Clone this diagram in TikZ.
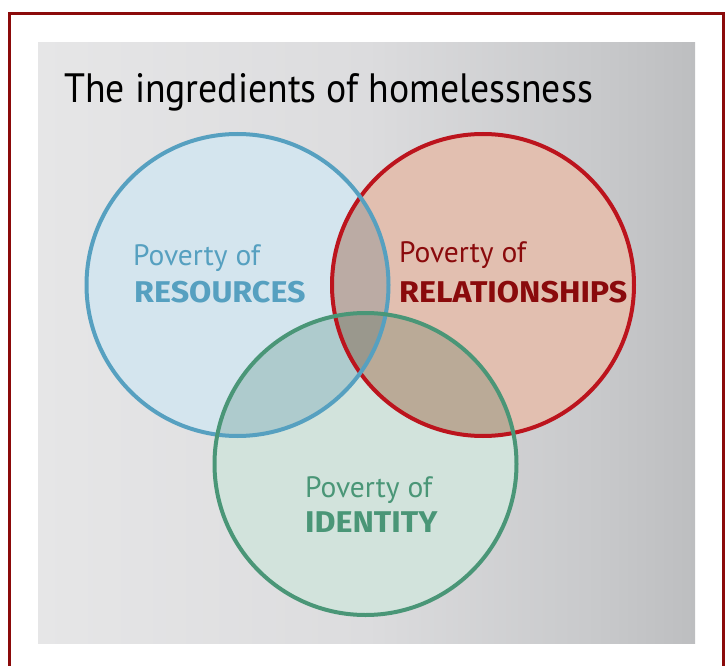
\documentclass[tikz,border=0pt]{standalone}
\usepackage{fontspec}
\setmainfont{PT Sans}
\newfontfamily\titlefont[FakeStretch=0.92]{PT Sans}
\newfontfamily\heavyfont[FakeStretch=1.075]{Fira Sans}
\definecolor{framered}{HTML}{8B0A0A}
\definecolor{panelA}{HTML}{E6E6E7}
\definecolor{panelB}{HTML}{DCDCDE}
\definecolor{panelC}{HTML}{C8C9CB}
\definecolor{panelD}{HTML}{BDBEC0}
\definecolor{resline}{HTML}{56A0C0}
\definecolor{resfill}{HTML}{D4E5EE}
\definecolor{relline}{HTML}{BC141D}
\definecolor{relfill}{HTML}{E2BFB0}
\definecolor{reltext}{HTML}{8A0A0C}
\definecolor{idline}{HTML}{4A9677}
\definecolor{idfill}{HTML}{D2E3DC}
% the visible part of a declared shading runs from 25bp to 75bp
\pgfdeclarehorizontalshading{panelshade}{100bp}{%
  color(0bp)=(panelA); color(25bp)=(panelA); color(50bp)=(panelB);
  color(67.5bp)=(panelC); color(75bp)=(panelD); color(100bp)=(panelD)}
\tikzset{
  ring/.style={line width=4pt},
  plain/.style={font=\fontsize{29.5}{36}\selectfont, anchor=base west, inner sep=0pt},
  heavy/.style={font=\heavyfont\fontsize{30}{36}\selectfont\bfseries, anchor=base west, inner sep=0pt},
}
\begin{document}
\begin{tikzpicture}[x=1pt,y=-1pt]
  \useasboundingbox (0,0) rectangle (726,666);
  % outer frame, open at the bottom
  \begin{scope}
    \clip (0,0) rectangle (726,666);
    \draw[framered, line width=3pt] (9.5,680) -- (9.5,13.5) -- (723.5,13.5) -- (723.5,680);
  \end{scope}
  % shaded panel
  \shade[shading=panelshade] (38,43) rectangle (695,643);
  \node[anchor=base west, inner sep=0pt, font=\titlefont\fontsize{41}{48}\selectfont] (title) at (64,103) {The ingredients of homelessness};
  % circle centres
  \coordinate (cres) at (237.5,285);
  \coordinate (crel) at (483,285);
  \coordinate (cid) at (365.5,464);
  % opaque base under the circles, then multiplied tints
  \fill[white] (cres) circle (151) (crel) circle (151) (cid) circle (151);
  \fill[resfill, blend mode=multiply] (cres) circle (151);
  \fill[relfill, blend mode=multiply] (crel) circle (151);
  \fill[idfill, blend mode=multiply] (cid) circle (151);
  % outlines
  \draw[ring, relline] (crel) circle (151);
  \draw[ring, resline] (cres) circle (151);
  \draw[ring, idline] (cid) circle (151);
  % labels
  \node[plain, text=resline] (res1) at (133,265) {Poverty of};
  \node[heavy, text=resline] (res2) at (134,302) {RESOURCES};
  \node[plain, text=reltext] (rel1) at (399,262) {Poverty of};
  \node[heavy, text=reltext] (rel2) at (399,302) {RELATIONSHIPS};
  \node[plain, text=idline] (id1) at (305,497) {Poverty of};
  \node[heavy, text=idline] (id2) at (305,532) {IDENTITY};
\end{tikzpicture}
\end{document}
